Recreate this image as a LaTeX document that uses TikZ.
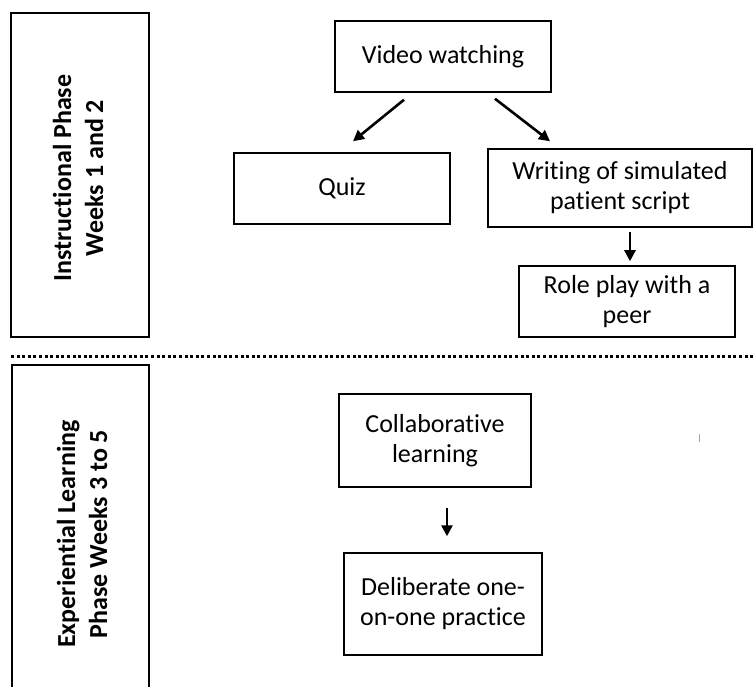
\documentclass[tikz,border=0pt]{standalone}
\usepackage{fontspec}
\setmainfont{Carlito}[Ligatures=NoCommon]
\usetikzlibrary{arrows.meta}
\begin{document}
\begin{tikzpicture}[x=1pt,y=-1pt,
  box/.style={draw,line width=1.5pt,align=center,inner sep=0pt,
    font=\fontsize{26}{30}\selectfont},
  phase/.style={draw,line width=1.5pt,align=center,inner sep=0pt},
  phasetext/.style={rotate=90,align=center,inner sep=0pt,
    font=\fontsize{26}{32}\selectfont\bfseries},
  flow/.style={line width=2.6pt,-{Triangle[length=11pt,width=11pt]}},
  divider/.style={line width=3pt,dash pattern=on 3pt off 2.6pt}]
\useasboundingbox (0,0) rectangle (755,687);
\begin{scope}
\clip (0,0) rectangle (755,687);

% phase panels on the left
\node[phase,minimum width=138pt,minimum height=324pt] (p1) at (80,175) {};
\node[phase,minimum width=137pt,minimum height=340pt] (p2) at (80.5,535) {};
\node[phasetext] (t1) at (78,178) {Instructional Phase\\Weeks 1 and 2};
\node[phasetext] (t2) at (82,534) {Experiential Learning\\Phase Weeks 3 to 5};

% dotted divider between the two phases
\coordinate (dl) at (11,356);
\coordinate (dr) at (755,356);
\draw[divider] (dl) -- (dr);

% instructional phase activities
\node[box,minimum width=216pt,minimum height=71pt] (video) at (443,56.5) {Video watching};
\node[box,minimum width=216pt,minimum height=71pt] (quiz) at (342,188.5) {Quiz};
\node[box,minimum width=264pt,minimum height=78pt] (write) at (620,188) {Writing of simulated\\patient script};
\node[box,minimum width=216pt,minimum height=71pt] (role) at (627,301.5) {Role play with a\\peer};

% experiential phase activities
\node[box,minimum width=192pt,minimum height=93pt] (collab) at (435,440.5) {Collaborative\\learning};
\node[box,minimum width=198pt,minimum height=102pt] (delib) at (443,604) {Deliberate one-\\on-one practice};

% connectors
\draw[flow] ([xshift=-39pt,yshift=-7pt]video.south) -- ([xshift=11pt,yshift=11pt]quiz.north);
\draw[flow] ([xshift=52pt,yshift=-6pt]video.south) -- ([xshift=-70pt,yshift=7pt]write.north);
\draw[flow] ([xshift=10pt,yshift=-4pt]write.south) -- ([xshift=3pt,yshift=4pt]role.north);
\draw[flow] ([xshift=12pt,yshift=-20pt]collab.south) -- ([xshift=4pt,yshift=16pt]delib.north);

% small stray tick on the right
\coordinate (ta) at (699,434);
\coordinate (tb) at (699,442);
\draw[gray!70,line width=1pt] (ta) -- (tb);
\end{scope}
\end{tikzpicture}
\end{document}
